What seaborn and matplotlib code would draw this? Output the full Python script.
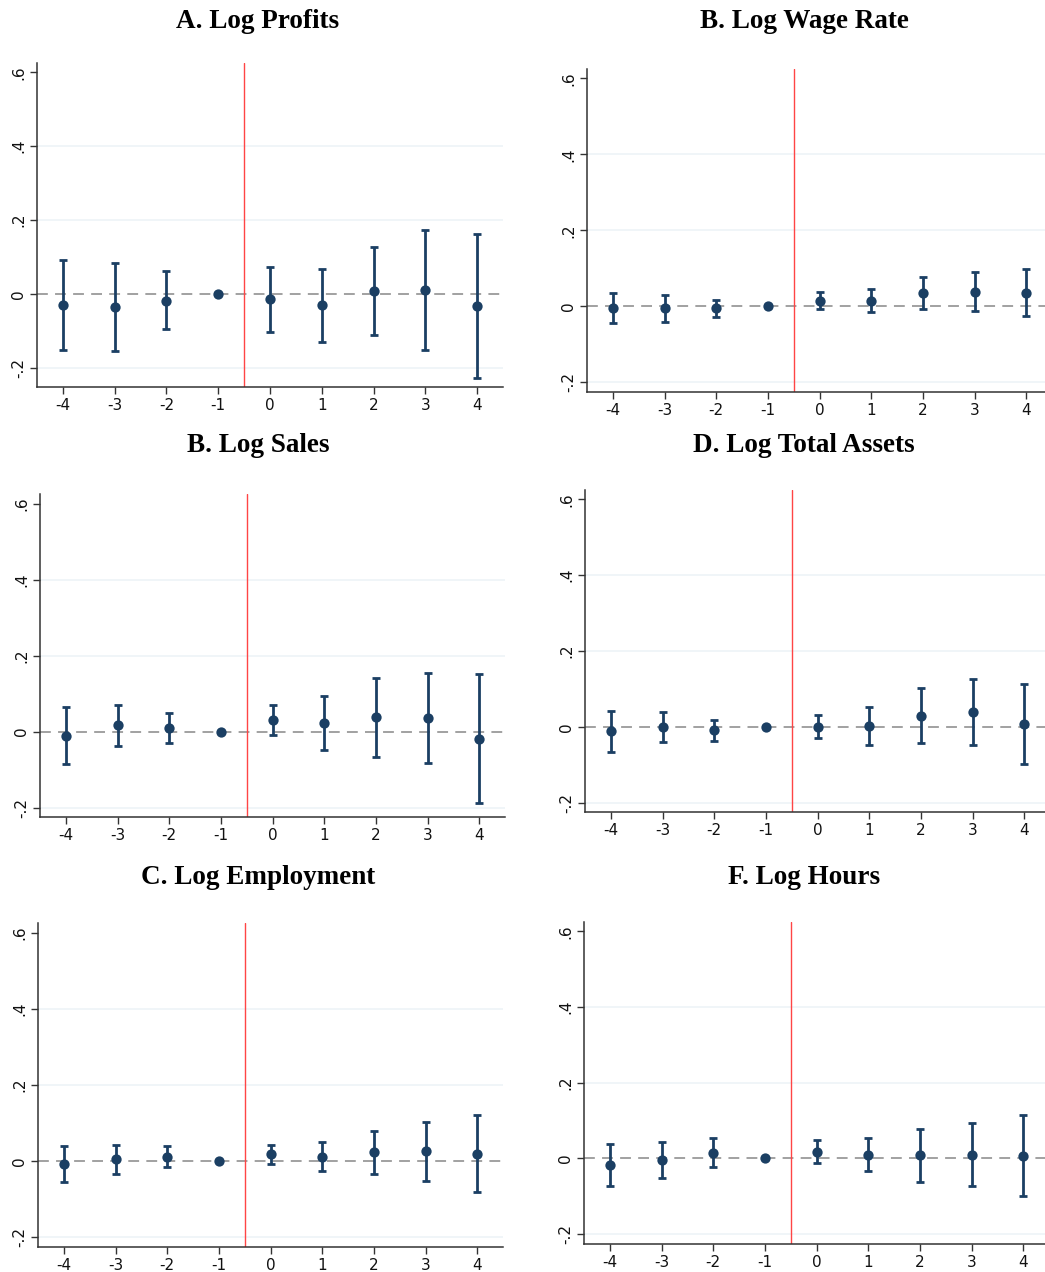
import numpy as np
import pandas as pd
import matplotlib
matplotlib.use("Agg")
import matplotlib.pyplot as plt
import seaborn as sns

# event time relative to treatment
event_time = [-4, -3, -2, -1, 0, 1, 2, 3, 4]

# point estimates and 95% CI bounds
profits_est = [-0.030, -0.035, -0.018, 0.0, -0.015, -0.030, 0.007, 0.010, -0.033]
profits_hi = [0.091, 0.084, 0.062, 0.0, 0.074, 0.067, 0.126, 0.174, 0.161]
profits_lo = [-0.153, -0.155, -0.096, 0.0, -0.102, -0.129, -0.111, -0.153, -0.227]

wage_est = [-0.004, -0.005, -0.005, 0.0, 0.015, 0.015, 0.036, 0.038, 0.036]
wage_hi = [0.034, 0.030, 0.017, 0.0, 0.038, 0.045, 0.078, 0.089, 0.099]
wage_lo = [-0.043, -0.041, -0.029, 0.0, -0.008, -0.016, -0.007, -0.012, -0.026]

sales_est = [-0.011, 0.016, 0.010, 0.0, 0.031, 0.023, 0.037, 0.036, -0.020]
sales_hi = [0.065, 0.070, 0.050, 0.0, 0.069, 0.094, 0.140, 0.153, 0.152]
sales_lo = [-0.085, -0.039, -0.031, 0.0, -0.009, -0.048, -0.066, -0.082, -0.189]

assets_est = [-0.012, 0.000, -0.009, 0.0, 0.000, 0.003, 0.029, 0.040, 0.007]
assets_hi = [0.042, 0.040, 0.019, 0.0, 0.030, 0.053, 0.102, 0.127, 0.114]
assets_lo = [-0.066, -0.041, -0.037, 0.0, -0.030, -0.047, -0.043, -0.047, -0.098]

employ_est = [-0.008, 0.004, 0.011, 0.0, 0.018, 0.011, 0.023, 0.026, 0.019]
employ_hi = [0.040, 0.041, 0.038, 0.0, 0.043, 0.050, 0.079, 0.103, 0.120]
employ_lo = [-0.055, -0.033, -0.015, 0.0, -0.008, -0.026, -0.034, -0.052, -0.081]

hours_est = [-0.018, -0.004, 0.015, 0.0, 0.017, 0.010, 0.008, 0.010, 0.007]
hours_hi = [0.039, 0.043, 0.055, 0.0, 0.048, 0.053, 0.078, 0.094, 0.115]
hours_lo = [-0.073, -0.051, -0.023, 0.0, -0.013, -0.033, -0.061, -0.073, -0.099]

titles = ["A. Log Profits", "B. Log Wage Rate", "B. Log Sales",
          "D. Log Total Assets", "C. Log Employment", "F. Log Hours"]
y_ticks = [-0.2, 0, 0.2, 0.4, 0.6]
y_tick_labels = ["-.2", "0", ".2", ".4", ".6"]

panels = [
    (profits_est, profits_lo, profits_hi),
    (wage_est, wage_lo, wage_hi),
    (sales_est, sales_lo, sales_hi),
    (assets_est, assets_lo, assets_hi),
    (employ_est, employ_lo, employ_hi),
    (hours_est, hours_lo, hours_hi),
]

# axes boxes in pixels: left, right, top, bottom, ylim bottom
W, H = 1045, 1272
boxes = [
    (37, 503, 63, 387, -0.252),
    (587, 1052, 69, 392, -0.226),
    (40, 505, 494, 817, -0.225),
    (585, 1050, 490, 812, -0.225),
    (38, 503, 923, 1247, -0.226),
    (584, 1049, 922, 1244, -0.226),
]
title_y = [21, 21, 446, 446, 877, 877]

navy = "#1b3f63"
red = "#ff4545"

sns.set_theme(style="white")
plt.rcParams["font.family"] = ["DejaVu Sans"]

fig = plt.figure(figsize=(W / 100, H / 100), dpi=100)
fig.patch.set_facecolor("white")

for i, (est, lo, hi) in enumerate(panels):
    left, right, top, bottom, ybot = boxes[i]
    ax = fig.add_axes([left / W, 1 - bottom / H, (right - left) / W, (bottom - top) / H])
    df = pd.DataFrame({"t": event_time, "est": est, "lo": lo, "hi": hi})

    # faint horizontal guides and the zero reference
    for g in [-0.2, 0.2, 0.4]:
        ax.axhline(g, color="#eef4f7", lw=1.2, zorder=0)
    ax.axhline(0, color="#9a9a9a", lw=1.3, ls=(0, (6, 4)), zorder=1)
    ax.axvline(-0.5, color=red, lw=1.0, zorder=1)

    ax.errorbar(df["t"], df["est"],
                yerr=[df["est"] - df["lo"], df["hi"] - df["est"]],
                fmt="none", ecolor=navy, elinewidth=2.0, capsize=3.2, capthick=2.0, zorder=2)
    sns.scatterplot(data=df, x="t", y="est", ax=ax, color=navy, s=55,
                    edgecolor=navy, linewidth=0, zorder=3, legend=False)

    ax.set_xlim(-4.5, 4.5)
    ax.set_ylim(ybot, 0.625)
    ax.set_xticks(event_time)
    ax.set_xticklabels([str(t) for t in event_time], fontsize=11, color="#111111")
    ax.set_yticks(y_ticks)
    ax.set_yticklabels(y_tick_labels, fontsize=11, color="#111111", rotation=90, va="center")
    ax.set_xlabel("")
    ax.set_ylabel("")
    ax.tick_params(axis="both", direction="out", length=5, width=1, color="#333333",
                   bottom=True, left=True, pad=3)
    for s in ["top", "right"]:
        ax.spines[s].set_visible(False)
    for s in ["left", "bottom"]:
        ax.spines[s].set_color("#333333")
        ax.spines[s].set_linewidth(1.1)

    cx = 258 if i % 2 == 0 else 804
    fig.text(cx / W, 1 - title_y[i] / H, titles[i], ha="center", va="center", color="black",
             fontsize=19.5, fontweight="bold", family=["Liberation Serif", "DejaVu Serif"])

fig.savefig("out.png", dpi=100, facecolor="white")
